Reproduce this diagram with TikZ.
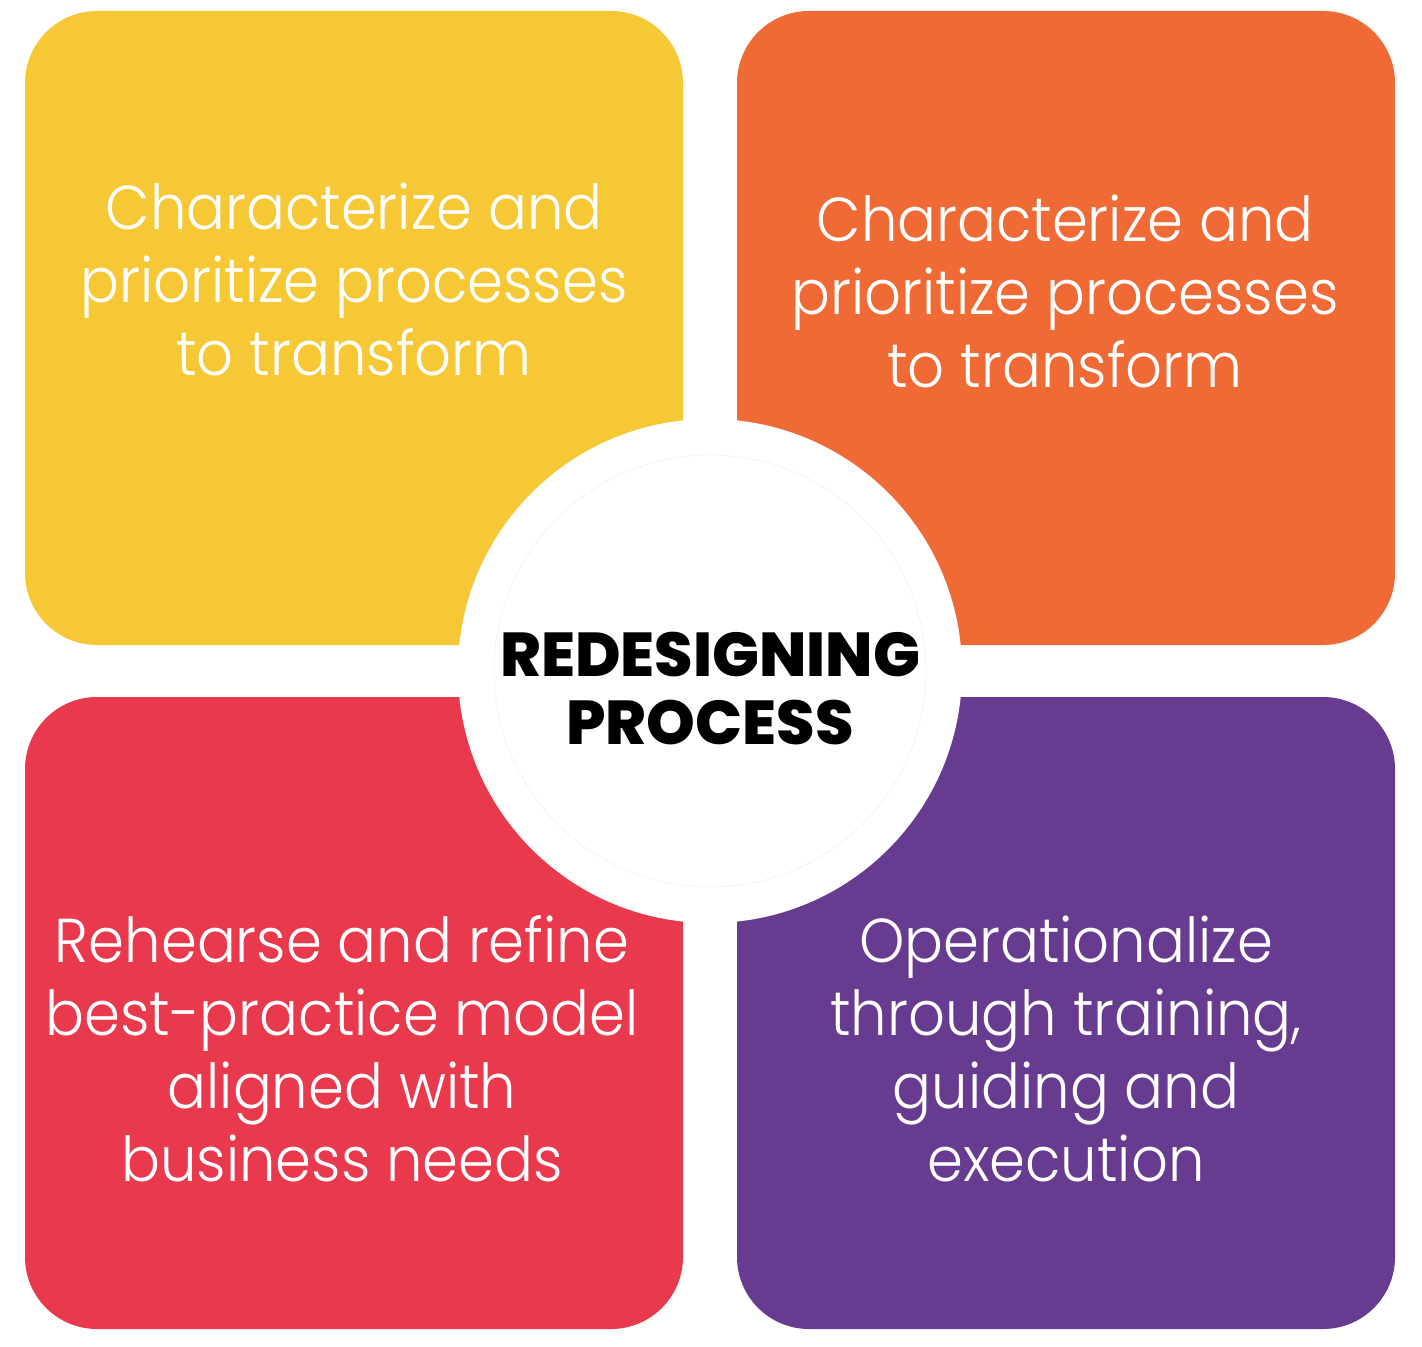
\documentclass[tikz,border=0pt]{standalone}
\usepackage{fontspec}
\usepackage{xcolor}
\usepackage{tikz}

\IfFontExistsTF{Poppins Light}{\newfontfamily\tilefont{Poppins Light}[FakeStretch=0.93]}{\newfontfamily\tilefont{Poppins}[FakeStretch=0.93]}
\IfFontExistsTF{Poppins ExtraBold}{\newfontfamily\hubfont{Poppins ExtraBold}}{\newfontfamily\hubfont{Poppins Bold}}

\definecolor{tileyellow}{HTML}{F7C835}
\definecolor{tileorange}{HTML}{EF6A35}
\definecolor{tilered}{HTML}{E8394D}
\definecolor{tilepurple}{HTML}{673B8F}

\begin{document}
\begin{tikzpicture}[x=0.5pt,y=0.5pt,
    tile/.style={rounded corners=36pt},
    tiletext/.style={text=white, align=center, inner sep=0pt,
        font=\tilefont\fontsize{31}{36.5}\selectfont},
    hubtext/.style={text=black, align=center, inner sep=0pt,
        font=\hubfont\fontsize{31}{34}\selectfont}]
    \useasboundingbox (0,0) rectangle (1422,1346);
    % four tiles
    \fill[tile, tileyellow] (25,701) rectangle (683,1335);
    \fill[tile, tileorange] (737,701) rectangle (1395,1335);
    \fill[tile, tilered] (25,17) rectangle (683,649);
    \fill[tile, tilepurple] (737,17) rectangle (1395,649);
    % hub in the middle
    \fill[white] (710,675) circle (252);
    \draw[black!8, very thin] (710,675) circle (216);
    \node[hubtext] (hub) at (710,657) {REDESIGNING\\PROCESS};
    % tile texts
    \node[tiletext] (prioritize) at (354,1067) {Characterize and\\prioritize processes\\to transform};
    \node[tiletext] (prioritizeb) at (1065,1055) {Characterize and\\prioritize processes\\to transform};
    \node[tiletext] (rehearse) at (342,297) {Rehearse and refine\\best-practice model\\aligned with\\business needs};
    \node[tiletext] (operate) at (1066,297) {Operationalize\\through training,\\guiding and\\execution};
\end{tikzpicture}
\end{document}
